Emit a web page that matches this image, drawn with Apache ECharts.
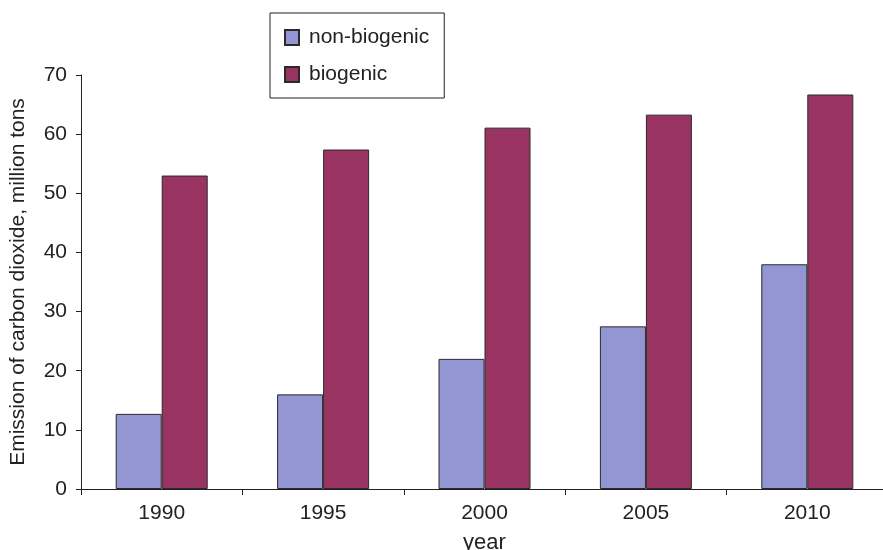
<!DOCTYPE html>
<html>
<head>
<meta charset="utf-8">
<script src="https://cdn.jsdelivr.net/npm/echarts@6/dist/echarts.min.js"></script>
<style>html,body{margin:0;padding:0;background:#fff;overflow:hidden}#c{width:883px;height:550px}</style>
</head>
<body>
<div id="c"></div>
<script>
const years = ['1990', '1995', '2000', '2005', '2010'];
const nonBiogenic = [12.7, 16.0, 22.0, 27.5, 38.0];
const biogenic = [53.0, 57.4, 61.1, 63.3, 66.7];
const yTicks = [0, 10, 20, 30, 40, 50, 60, 70];

const font = '"Liberation Sans", Arial, Helvetica, sans-serif';
const chart = echarts.init(document.getElementById('c'), null, { width: 883, height: 550 });
chart.setOption({
  animation: false,
  backgroundColor: '#fff',
  textStyle: { fontFamily: font },
  grid: { left: 81, top: 75, height: 414, width: 807, containLabel: false, outerBoundsMode: 'none' },
  legend: {
    orient: 'vertical', left: 270, top: 13,
    padding: [14, 15, 13, 14],
    borderColor: '#222', borderWidth: 1,
    itemWidth: 14, itemHeight: 15, itemGap: 16,
    selectedMode: false,
    icon: 'rect',
    textStyle: { fontFamily: font, fontSize: 21, color: '#222', padding: [0, 0, 0, 5] },
    data: ['non-biogenic', 'biogenic']
  },
  xAxis: {
    type: 'category', data: years,
    name: 'year', nameLocation: 'middle', nameGap: 43,
    nameTextStyle: { fontFamily: font, fontSize: 22, color: '#222' },
    axisLine: { lineStyle: { color: '#222', width: 1 } },
    axisTick: { show: true, length: 6, lineStyle: { color: '#222' } },
    axisLabel: { fontFamily: font, fontSize: 21, color: '#222', margin: 14 }
  },
  yAxis: {
    type: 'value', min: yTicks[0], max: yTicks[yTicks.length - 1], interval: 10,
    name: 'Emission of carbon dioxide, million tons', nameLocation: 'middle', nameGap: 52,
    nameTextStyle: { fontFamily: font, fontSize: 21, color: '#222' },
    axisLine: { show: true, lineStyle: { color: '#222', width: 1 } },
    axisTick: { show: true, length: 5, lineStyle: { color: '#222' } },
    axisLabel: { fontFamily: font, fontSize: 21, color: '#222', margin: 14 },
    splitLine: { show: false }
  },
  series: [
    {
      name: 'non-biogenic', type: 'bar', data: nonBiogenic,
      barWidth: 46, barGap: '0%',
      itemStyle: { color: '#9496D4', borderColor: '#2a2a2a', borderWidth: 1 }
    },
    {
      name: 'biogenic', type: 'bar', data: biogenic,
      barWidth: 46, barGap: '0%',
      itemStyle: { color: '#993462', borderColor: '#2a2a2a', borderWidth: 1 }
    }
  ]
});
</script>
</body>
</html>
